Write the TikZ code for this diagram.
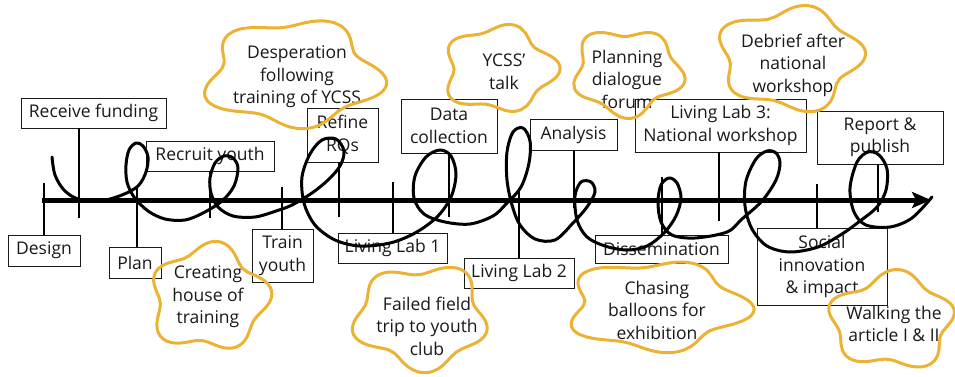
\documentclass[tikz,border=0pt]{standalone}
\usepackage{fontspec}
\setmainfont{Open Sans}
\usetikzlibrary{arrows.meta}
\definecolor{gold}{RGB}{236,178,52}
\definecolor{ink}{RGB}{25,25,25}
\newcommand\cloudblob[6]{%
  \draw[cloudline, shift={(#1,#2)}] plot[smooth cycle, tension=0.7, domain=0:352.5, samples=48, variable=\t]
   ({#3*(1+0.12*sin(5*\t+#5)+0.04*sin(3*\t+#6))*cos(\t)},
    {#4*(1+0.12*sin(5*\t+#5)+0.04*sin(3*\t+#6))*sin(\t)});}
\begin{document}
\begin{tikzpicture}[x=1pt,y=-1pt,
  every node/.style={text=ink, font=\fontsize{17.5}{22.5}\selectfont},
  box/.style={draw=ink, line width=0.9pt, inner sep=0pt, align=center},
  cloudtext/.style={align=center, inner sep=0pt},
  tick/.style={draw=black, line width=2.2pt},
  axis/.style={draw=black, line width=5pt, -{Stealth[length=19pt,width=16pt,inset=4pt]}},
  scribble/.style={draw=black, line width=3pt, line cap=round, line join=round},
  cloudline/.style={draw=gold, line width=3pt}]
\useasboundingbox (0,0) rectangle (955,377);
% boxes
\node[box, minimum width=72, minimum height=31] (design) at (44,250.5) {Design};
\node[box, minimum width=145, minimum height=30] (rf) at (93.5,113) {Receive funding};
\node[box, minimum width=52, minimum height=31] (plan) at (135,262.5) {Plan};
\node[box, minimum width=128, minimum height=30] (recruit) at (210,156) {Recruit youth};
\node[box, minimum width=61, minimum height=53] (train) at (282.5,255.5) {Train\\youth};
\node[box, minimum width=71, minimum height=54] (refine) at (342.5,135) {Refine\\RQs};
\node[box, minimum width=109, minimum height=30] (ll1) at (392.5,248) {Living Lab 1};
\node[box, minimum width=96, minimum height=54] (data) at (449,126) {Data\\collection};
\node[box, minimum width=110, minimum height=30] (ll2) at (519,273) {Living Lab 2};
\node[box, minimum width=87, minimum height=31] (analysis) at (573.5,134.5) {Analysis};
\node[box, minimum width=133, minimum height=28] (dissem) at (661.5,249) {Dissemination};
\node[box, minimum width=171, minimum height=53] (ll3) at (720.5,125.5) {Living Lab 3:\\National workshop};
\node[box, minimum width=130, minimum height=77] (social) at (822,266.5) {Social\\innovation\\\& impact};
\node[box, minimum width=126, minimum height=53] (report) at (880,137.5) {Report \&\\publish};
% tick ends
\coordinate (tdesign) at (44,183);
\coordinate (trf) at (79,218);
\coordinate (tplan) at (137,188);
\coordinate (trecruit) at (210,218);
\coordinate (ttrain) at (282,187);
\coordinate (trefine) at (339,217);
\coordinate (tll1) at (393,182);
\coordinate (tdata) at (449,217);
\coordinate (tll2) at (519,188);
\coordinate (tanalysis) at (574,208);
\coordinate (tdissem) at (662,177);
\coordinate (tll3) at (719,221);
\coordinate (tsocial) at (817,184);
\coordinate (treport) at (878,212);
\draw[tick] (tdesign) -- (tdesign |- design.north);
\draw[tick] (trf) -- (trf |- rf.south);
\draw[tick] (tplan) -- (tplan |- plan.north);
\draw[tick] (trecruit) -- (trecruit |- recruit.south);
\draw[tick] (ttrain) -- (ttrain |- train.north);
\draw[tick] (trefine) -- (trefine |- refine.south);
\draw[tick] (tll1) -- (tll1 |- ll1.north);
\draw[tick] (tdata) -- (tdata |- data.south);
\draw[tick] (tll2) -- (tll2 |- ll2.north);
\draw[tick] (tanalysis) -- (tanalysis |- analysis.south);
\draw[tick] (tdissem) -- (tdissem |- dissem.north);
\draw[tick] (tll3) -- (tll3 |- ll3.south);
\draw[tick] (tsocial) -- (tsocial |- social.north);
\draw[tick] (treport) -- (treport |- report.south);
% axis
\coordinate (axL) at (42,200);
\coordinate (axR) at (931,200);
\draw[axis] (axL) -- (axR);
% scribble
\draw[scribble] plot[smooth, tension=0.55] coordinates {
 (52,157) (55,175) (64,190) (78,199) (100,201) (122,195) (138,186) (146,172) (148,157) (143,146) (136,143) (129,150) (126,165) (127,182) (134,197) (148,211) (165,219) (185,220) (203,213)
 (222,201) (234,186) (238,168) (233,158) (224,156) (215,163) (210,178) (211,193) (218,207) (233,216) (255,217) (276,211) (292,205)
 (312,193) (328,180) (340,166) (344,151) (336,139) (322,140) (310,154) (302,177) (304,203) (315,225) (335,240) (360,246) (390,243) (415,233)
 (437,217) (451,197) (456,174) (451,156) (440,150) (426,157) (415,176) (414,198) (424,214) (445,222) (470,224) (493,216) (506,204)
 (521,187) (529,163) (530,141) (523,128) (513,132) (507,152) (507,180) (512,205) (520,225) (535,239) (555,240) (573,223) (587,207)
 (595,192) (591,182) (581,182) (575,196) (577,220) (587,237) (605,246) (627,250) (647,246)
 (664,233) (676,216) (681,198) (677,183) (669,178) (661,185) (658,202) (661,222) (672,235) (695,238) (727,232) (742,219)
 (762,201) (776,180) (780,163) (776,153) (767,151) (756,159) (746,181) (745,206) (752,229) (767,246) (790,252) (818,247) (842,234) (860,221)
 (877,207) (886,190) (887,169) (879,155) (868,152) (857,162) (850,188) (854,212) (866,225) (890,227) (912,218) (932,197)
};
% clouds
\node[cloudtext] (c1) at (297,77) {Desperation\\following\\training of YCSS};
\node[cloudtext] (c2) at (504,72) {YCSS’\\talk};
\node[cloudtext] (c3) at (627,79) {Planning\\dialogue\\forum};
\node[cloudtext] (c4) at (793,65) {Debrief after\\national\\workshop};
\node[cloudtext] (c5) at (208,297) {Creating\\house of\\training};
\node[cloudtext] (c6) at (427,326) {Failed field\\trip to youth\\club};
\node[cloudtext] (c7) at (657,310) {Chasing\\balloons for\\exhibition};
\node[cloudtext] (c8) at (894,324) {Walking the\\article I \& II};
\cloudblob{293}{74}{83}{51}{40}{10}
\cloudblob{499}{69}{53}{41}{100}{60}
\cloudblob{627}{72}{52}{41}{20}{120}
\cloudblob{790}{58}{68}{49}{110}{200}
\cloudblob{209}{298}{56}{50}{130}{30}
\cloudblob{421}{317}{63}{49}{10}{250}
\cloudblob{656}{306}{85}{43}{60}{90}
\cloudblob{892}{321}{59}{45}{160}{300}
\end{tikzpicture}
\end{document}
